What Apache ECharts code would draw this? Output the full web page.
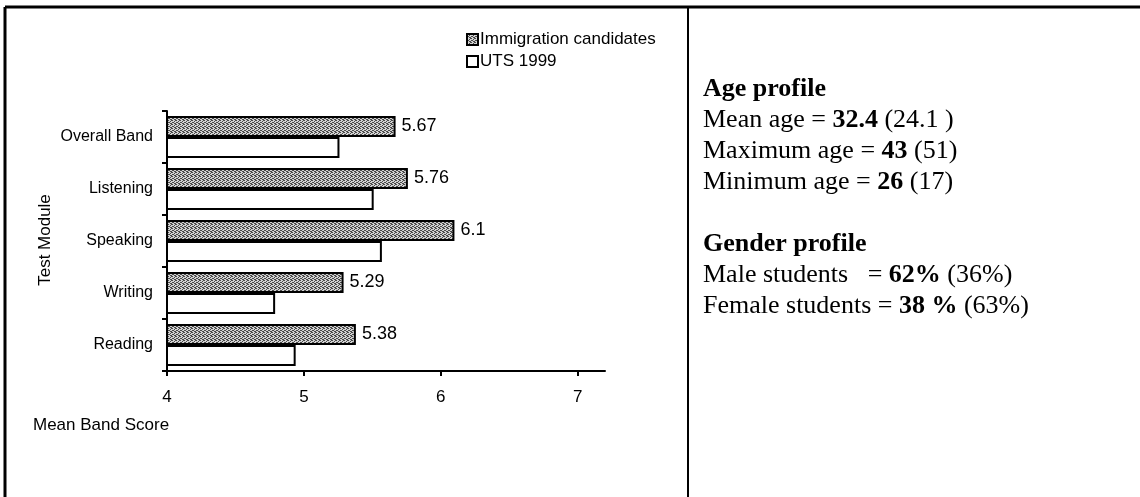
<!DOCTYPE html>
<html>
<head>
<meta charset="utf-8">
<script src="https://cdn.jsdelivr.net/npm/echarts@6/dist/echarts.min.js"></script>
<style>
html,body{margin:0;padding:0;background:#fff}
#main{width:1140px;height:497px}
</style>
</head>
<body>
<div id="main"></div>
<script>
// data
var categories = ['Overall Band', 'Listening', 'Speaking', 'Writing', 'Reading'];
var immigration = [5.67, 5.76, 6.1, 5.29, 5.38];
var uts1999 = [5.26, 5.51, 5.57, 4.79, 4.94];
var xTicks = [4, 5, 6, 7];

// profile text on the right (bold = immigration candidates, brackets = UTS 1999)
var ageLabels = ['Mean age', 'Maximum age', 'Minimum age'];
var ageImm = ['32.4', '43', '26'];
var ageUts = ['24.1 ', '51', '17'];
var genderLabels = ['Male students   ', 'Female students '];
var genderImm = ['62%', '38 %'];
var genderUts = ['36%', '63%'];

var sans = '"Liberation Sans", Arial, Helvetica, sans-serif';
var serif = '"Liberation Serif", "Times New Roman", serif';

// halftone grey fill like the printed bars
function dotPattern() {
    var c = document.createElement('canvas');
    c.width = 4; c.height = 4;
    var g = c.getContext('2d');
    g.fillStyle = '#d2d2d2';
    g.fillRect(0, 0, 4, 4);
    g.fillStyle = '#4a4a4a';
    [[0,0],[2,1],[1,2],[3,3],[2,3],[0,2],[3,0]].forEach(function (p) { g.fillRect(p[0], p[1], 1, 1); });
    return c;
}

var lines = ['{h|Age profile}'];
for (var i = 0; i < ageLabels.length; i++) {
    lines.push(ageLabels[i] + ' = {b|' + ageImm[i] + '} (' + ageUts[i] + ')');
}
lines.push('');
lines.push('{h|Gender profile}');
for (var j = 0; j < genderLabels.length; j++) {
    lines.push(genderLabels[j] + '= {b|' + genderImm[j] + '} (' + genderUts[j] + ')');
}

var myChart = echarts.init(document.getElementById('main'));
var option = {
    animation: false,
    backgroundColor: '#fff',
    legend: {
        data: ['Immigration candidates', 'UTS 1999'],
        orient: 'vertical',
        left: 461,
        top: 26,
        itemWidth: 11,
        itemHeight: 11,
        itemGap: 5,
        icon: 'rect',
        textStyle: { fontFamily: sans, fontSize: 17, color: '#000', padding: [0, 0, 0, -3] }
    },
    grid: { left: 167, top: 111, width: 438, height: 260, containLabel: false },
    xAxis: {
        type: 'value',
        min: 4,
        max: 7.2,
        interval: 1,
        axisLine: { show: true, lineStyle: { color: '#000', width: 2 } },
        axisTick: { show: true, length: 5, customValues: xTicks, lineStyle: { color: '#000', width: 2 } },
        axisLabel: { customValues: xTicks, fontFamily: sans, fontSize: 17, color: '#000', margin: 18 },
        splitLine: { show: false }
    },
    yAxis: {
        type: 'category',
        inverse: true,
        data: categories,
        axisLine: { show: true, lineStyle: { color: '#000', width: 2 } },
        axisTick: { show: true, length: 5, lineStyle: { color: '#000', width: 2 } },
        axisLabel: { fontFamily: sans, fontSize: 16, color: '#000', margin: 14 }
    },
    series: [
        {
            name: 'Immigration candidates',
            type: 'bar',
            data: immigration,
            barWidth: 21,
            barGap: '0%',
            itemStyle: { color: { image: dotPattern(), repeat: 'repeat' }, borderColor: '#000', borderWidth: 2 },
            label: { show: true, position: 'right', distance: 6, fontFamily: sans, fontSize: 18, color: '#000' }
        },
        {
            name: 'UTS 1999',
            type: 'bar',
            data: uts1999,
            barWidth: 21,
            barGap: '0%',
            itemStyle: { color: '#fff', borderColor: '#000', borderWidth: 2 }
        }
    ],
    graphic: [
        // frame and divider
        { type: 'line', shape: { x1: 5, y1: 7, x2: 1140, y2: 7 }, style: { stroke: '#000', lineWidth: 3 } },
        { type: 'line', shape: { x1: 5, y1: 7, x2: 5, y2: 497 }, style: { stroke: '#000', lineWidth: 3 } },
        { type: 'line', shape: { x1: 688, y1: 7, x2: 688, y2: 497 }, style: { stroke: '#000', lineWidth: 2 } },
        {
            type: 'text', x: 45, y: 240, rotation: Math.PI / 2,
            style: { text: 'Test Module', fontFamily: sans, fontSize: 17, fill: '#000', align: 'center', verticalAlign: 'middle' }
        },
        {
            type: 'text', x: 33, y: 425,
            style: { text: 'Mean Band Score', fontFamily: sans, fontSize: 17, fill: '#000', align: 'left', verticalAlign: 'middle' }
        },
        {
            type: 'text', x: 703, y: 74,
            style: {
                text: lines.join('\n'),
                fontFamily: serif, fontSize: 26, lineHeight: 31, fill: '#000',
                rich: {
                    h: { fontFamily: serif, fontSize: 26, fontWeight: 'bold', lineHeight: 31 },
                    b: { fontFamily: serif, fontSize: 26, fontWeight: 'bold', lineHeight: 31 }
                }
            }
        }
    ]
};
myChart.setOption(option);
</script>
</body>
</html>
